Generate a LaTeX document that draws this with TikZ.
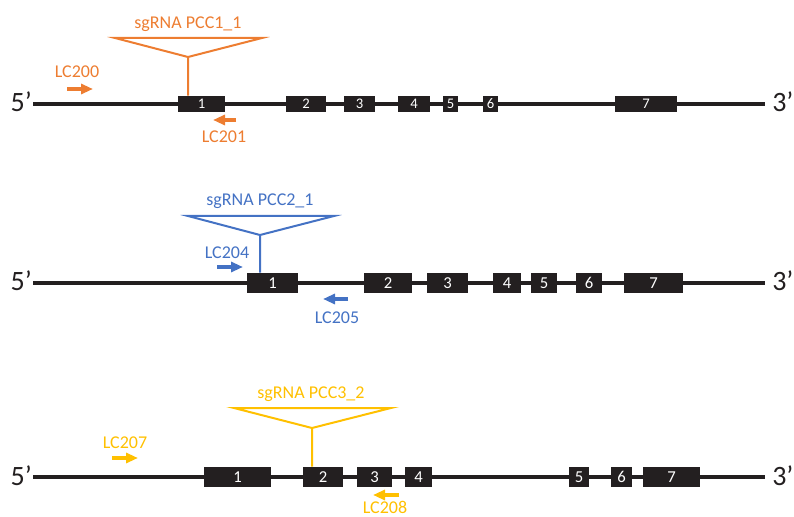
\documentclass[tikz,border=0pt]{standalone}
\usepackage{fontspec}
\setmainfont{Carlito}
\usetikzlibrary{arrows.meta}
\definecolor{dna}{RGB}{35,31,32}
\definecolor{pcco}{RGB}{237,125,49}
\definecolor{pccb}{RGB}{68,114,196}
\definecolor{pccy}{RGB}{255,192,0}
\begin{document}
\begin{tikzpicture}[>={Triangle[length=9pt,width=7.5pt]},x=0.75pt,y=-0.75pt]
\useasboundingbox (0,0) rectangle (794,517);
\tikzstyle{ex}=[fill=dna,text=white,inner sep=0pt]
\tikzstyle{lbl}=[inner sep=0pt,anchor=base,font=\fontsize{13.5}{14}\selectfont]
\tikzstyle{endlbl}=[inner sep=0pt,text=dna,font=\fontsize{21}{22}\selectfont]
\tikzstyle{primer}=[line width=2.4pt,->]
\tikzstyle{guide}=[line width=1.5pt]
\foreach \r/\y/\e in {1/104/765,2/283/765,3/477/765} {
  \coordinate (a\r) at (33,\y); \coordinate (b\r) at (\e,\y);
  \node[endlbl,anchor=base east] (f\r) at (32,\y+8) {5’};
  \node[endlbl,anchor=base west] (t\r) at (772,\y+8) {3’};
  \draw[dna,line width=2.4pt] (a\r) -- (b\r);
}
\foreach \i/\p/\q in {1/178/225,2/286/326,3/344/375,4/398/430,5/443/458,6/483/498,7/615/677} \node[ex,font=\fontsize{11}{11}\selectfont,minimum width={(\q-\p)*0.75pt},minimum height=16*0.75pt] (e1\i) at ({(\p+\q)/2},104) {\i};
\foreach \i/\p/\q in {1/247/298,2/364/412,3/427/468,4/493/521,5/531/557,6/576/602,7/624/683} \node[ex,font=\fontsize{12.5}{12.5}\selectfont,minimum width={(\q-\p)*0.75pt},minimum height=20*0.75pt] (e2\i) at ({(\p+\q)/2},283) {\i};
\foreach \i/\p/\q in {1/204/271,2/303/343,3/357/392,4/405/432,5/569/589,6/611/632,7/643/700} \node[ex,font=\fontsize{12.5}{12.5}\selectfont,minimum width={(\q-\p)*0.75pt},minimum height=20*0.75pt] (e3\i) at ({(\p+\q)/2},477) {\i};
\node[lbl,text=pcco] (g1) at (188,29) {sgRNA PCC1\_1};
\coordinate (s1l) at (115,38); \coordinate (s1r) at (262,38); \coordinate (s1a) at (188,57);
\draw[guide,pcco] (s1l) -- (s1r) -- (s1a) -- cycle (s1a) -- (s1a |- e11.north);
\node[lbl,text=pcco] (l200) at (77,78) {LC200};
\coordinate (p200) at (67,89); \coordinate (q200) at (93,89);
\draw[primer,pcco] (p200) -- (q200);
\node[lbl,text=pcco] (l201) at (224,143) {LC201};
\coordinate (p201) at (236,120); \coordinate (q201) at (213,120);
\draw[primer,pcco] (p201) -- (q201);
\node[lbl,text=pccb] (g2) at (260,206) {sgRNA PCC2\_1};
\coordinate (s2l) at (188,216); \coordinate (s2r) at (334,216); \coordinate (s2a) at (260,235);
\draw[guide,pccb] (s2l) -- (s2r) -- (s2a) -- cycle (s2a) -- (s2a |- e21.north);
\node[lbl,text=pccb] (l204) at (227,258) {LC204};
\coordinate (p204) at (217,267); \coordinate (q204) at (243,267);
\draw[primer,pccb] (p204) -- (q204);
\node[lbl,text=pccb] (l205) at (337,324) {LC205};
\coordinate (p205) at (348,299); \coordinate (q205) at (323,299);
\draw[primer,pccb] (p205) -- (q205);
\node[lbl,text=pccy] (g3) at (311,398) {sgRNA PCC3\_2};
\coordinate (s3l) at (234,408); \coordinate (s3r) at (391,408); \coordinate (s3a) at (312,428);
\draw[guide,pccy] (s3l) -- (s3r) -- (s3a) -- cycle (s3a) -- (s3a |- e32.north);
\node[lbl,text=pccy] (l207) at (125,448) {LC207};
\coordinate (p207) at (112,458); \coordinate (q207) at (138,458);
\draw[primer,pccy] (p207) -- (q207);
\node[lbl,text=pccy] (l208) at (385,513) {LC208};
\coordinate (p208) at (399,495); \coordinate (q208) at (373,495);
\draw[primer,pccy] (p208) -- (q208);
\end{tikzpicture}
\end{document}
